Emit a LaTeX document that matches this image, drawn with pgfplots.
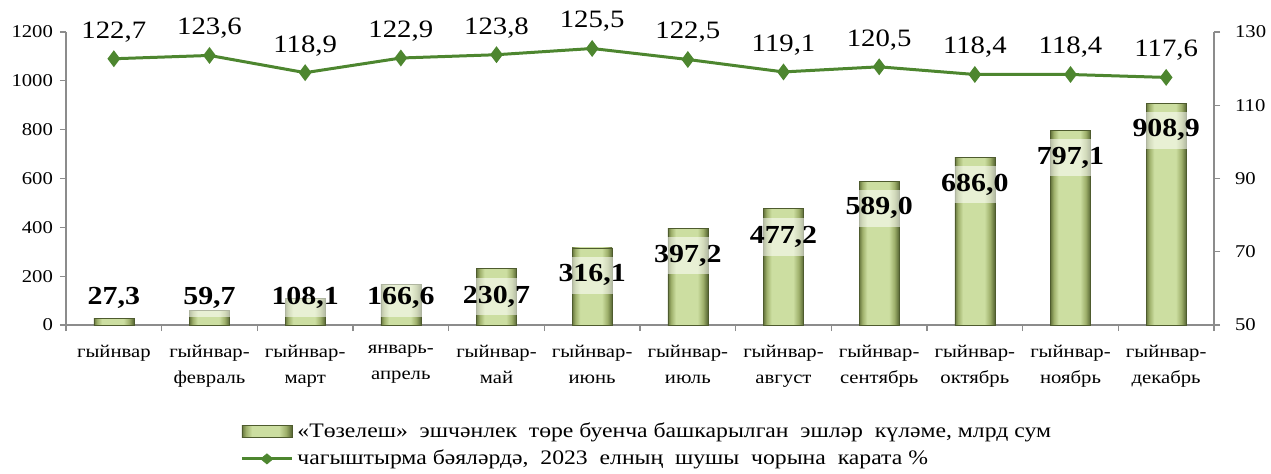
\documentclass[border=0pt]{standalone}
\usepackage{fontspec}
\setmainfont{Liberation Serif}[FakeStretch=1.15]
\usepackage{pgfplots}
\usepackage{pgfplotstable}
\pgfplotsset{compat=1.18}
\definecolor{linegreen}{RGB}{77,134,47}
\definecolor{baredge}{RGB}{112,130,66}
\definecolor{barmid}{RGB}{205,224,160}
\definecolor{axgray}{RGB}{140,140,140}
\pgfdeclarehorizontalshading{barshade}{100bp}{%
  rgb(0bp)=(0.40,0.46,0.24);
  rgb(25bp)=(0.40,0.46,0.24);
  rgb(29bp)=(0.62,0.69,0.42);
  rgb(35bp)=(0.80,0.87,0.63);
  rgb(62bp)=(0.80,0.87,0.63);
  rgb(69bp)=(0.62,0.69,0.42);
  rgb(75bp)=(0.34,0.40,0.20);
  rgb(100bp)=(0.34,0.40,0.20)}

\pgfplotstableread{
x v ly lab
0 27.3 110 27,3
1 59.7 110 59,7
2 108.1 110 108,1
3 166.6 110 166,6
4 230.7 116 230,7
5 316.1 204 316,1
6 397.2 285 397,2
7 477.2 360 477,2
8 589.0 478 589,0
9 686.0 575 686,0
10 797.1 686 797,1
11 908.9 798 908,9
}\bardata

\pgfplotstableread{
x v lab
0 122.7 122,7
1 123.6 123,6
2 118.9 118,9
3 122.9 122,9
4 123.8 123,8
5 125.5 125,5
6 122.5 122,5
7 119.1 119,1
8 120.5 120,5
9 118.4 118,4
10 118.4 118,4
11 117.6 117,6
}\linedata

\pgfplotsset{
  common/.style={
    scale only axis, width=574pt, height=146.5pt,
    xmin=-0.5, xmax=11.5,
    tick align=outside, major tick length=3pt,
    axis line style={-, draw=axgray, line width=0.6pt},
    tick style={draw=axgray, line width=0.6pt},
    tick label style={font=\fontsize{9}{11}\selectfont},
    /pgf/number format/assume math mode=true,
    /pgf/number format/1000 sep={},
  },
  barstyle/.style={ybar, bar width=20pt, draw=baredge!70!black, line width=0.3pt,
    shading=barshade},
}

\begin{document}
\begin{tikzpicture}
\path[use as bounding box] (-33pt,-74pt) rectangle (602.5pt,162.5pt);
\begin{axis}[common,
  ymin=0, ymax=1200,
  ytick={0,200,...,1200},
  xtick={-0.5,0.5,...,11.5},
  x tick label as interval,
  xticklabels={гыйнвар,{гыйнвар-\\февраль},{гыйнвар-\\март},{январь-\\апрель},{гыйнвар-\\май},{гыйнвар-\\июнь},{гыйнвар-\\июль},{гыйнвар-\\август},{гыйнвар-\\сентябрь},{гыйнвар-\\октябрь},{гыйнвар-\\ноябрь},{гыйнвар-\\декабрь}},
  xticklabel style={align=center, font=\fontsize{9}{13}\selectfont, yshift=-3.5pt},
  axis x line*=bottom, axis y line*=left,
]
\pgfplotsinvokeforeach{0,...,11}{
  \addplot[barstyle] table[x=x, y=v, restrict expr to domain={\coordindex}{#1:#1}] {\bardata};
}
\addplot[draw=none, mark=none, nodes near coords, point meta=explicit symbolic,
  every node near coord/.style={anchor=center, font=\fontsize{13}{15}\selectfont\bfseries,
    text=black, fill=white, fill opacity=0.55, text opacity=1, inner xsep=1pt, inner ysep=4pt}]
  table[x=x, y=ly, meta=lab] {\bardata};
\end{axis}
\begin{axis}[common,
  ymin=50, ymax=130,
  ytick={50,70,...,130},
  hide x axis,
  axis y line*=right,
  yticklabel style={xshift=4pt},
  clip=false,
  legend style={at={(0.1516,-0.317)}, anchor=north west, draw=none, fill=none,
    font=\fontsize{10.3}{11}\selectfont, row sep=1pt, inner sep=0pt,
    nodes={inner sep=2pt}},
  legend cell align=left,
]
\addlegendimage{legend image code/.code={\draw[shading=barshade, draw=baredge!70!black, line width=0.3pt] (0pt,-3pt) rectangle (25pt,3pt);}}
\addlegendentry{«Төзелеш»\ \ эшчәнлек\ \ төре буенча башкарылган\ \ эшләр\ \ күләме, млрд сум}
\addlegendimage{legend image code/.code={\draw[linegreen, line width=1.5pt] (0pt,0pt) -- (25pt,0pt); \fill[linegreen] (12.5pt,0pt) +(-3pt,0pt) -- +(0pt,2.5pt) -- +(3pt,0pt) -- +(0pt,-2.5pt) -- cycle;}}
\addlegendentry{чагыштырма бәяләрдә,\ \ 2023\ \ елның\ \ шушы\ \ чорына\ \ карата \%}
\addplot[linegreen, line width=1.5pt, mark=diamond*, mark size=3pt, forget plot,
  nodes near coords, point meta=explicit symbolic,
  every node near coord/.style={anchor=center, yshift=13.5pt, font=\fontsize{12.5}{14}\selectfont, text=black}]
  table[x=x, y=v, meta=lab] {\linedata};
\end{axis}
\end{tikzpicture}
\end{document}
